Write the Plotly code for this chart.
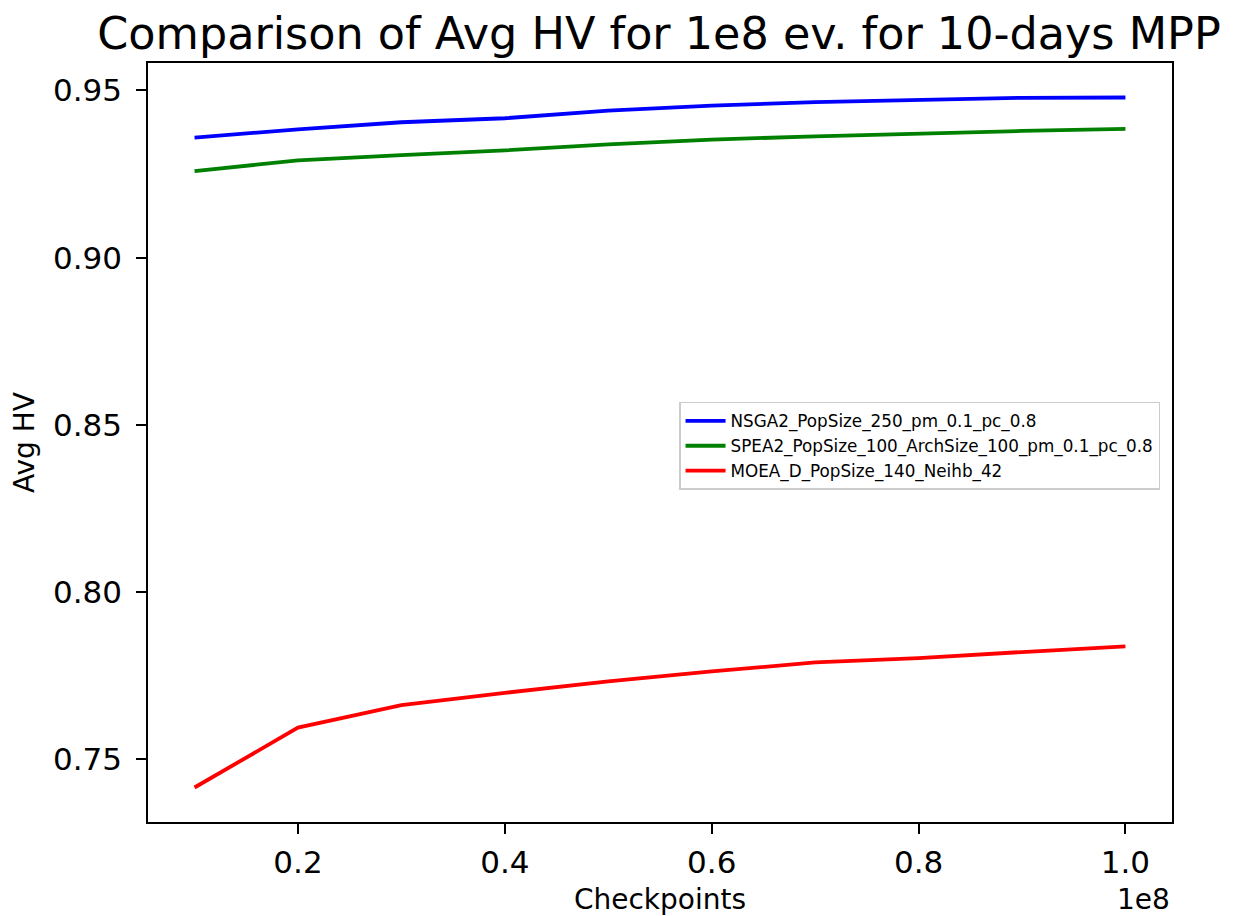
import plotly.graph_objects as go

checkpoints = [1e7, 2e7, 3e7, 4e7, 5e7, 6e7, 7e7, 8e7, 9e7, 1e8]
nsga2 = [0.9359, 0.9384, 0.9405, 0.9417, 0.9440, 0.9455, 0.9465, 0.9471, 0.9478, 0.9479]
spea2 = [0.9259, 0.9291, 0.9307, 0.9321, 0.9339, 0.9353, 0.9363, 0.9372, 0.9379, 0.9385]
moead = [0.7416, 0.7595, 0.7662, 0.7699, 0.7733, 0.7763, 0.7790, 0.7803, 0.7821, 0.7838]

series_names = ["NSGA2_PopSize_250_pm_0.1_pc_0.8",
                "SPEA2_PopSize_100_ArchSize_100_pm_0.1_pc_0.8",
                "MOEA_D_PopSize_140_Neihb_42"]
series_colors = ["blue", "green", "red"]

x_tickvals = [2e7, 4e7, 6e7, 8e7, 1e8]
x_ticktext = ["0.2", "0.4", "0.6", "0.8", "1.0"]
y_tickvals = [0.75, 0.80, 0.85, 0.90, 0.95]

FONT = "DejaVu Sans"

fig = go.Figure()
for name, vals, col in zip(series_names, [nsga2, spea2, moead], series_colors):
    fig.add_trace(go.Scatter(x=checkpoints, y=vals, mode="lines", name=name,
                             line=dict(color=col, width=3.8)))

xmin, xmax = min(checkpoints), max(checkpoints)
ymin = min(moead + spea2 + nsga2)
ymax = max(moead + spea2 + nsga2)
xpad = 0.05 * (xmax - xmin)
ypad = 0.05 * (ymax - ymin)

W, H = 1228, 908
fig.update_layout(
    width=W, height=H,
    margin=dict(l=140, r=64, t=55, b=94, autoexpand=False),
    paper_bgcolor="white", plot_bgcolor="white",
    font=dict(family=FONT, color="black"),
    showlegend=True,
    title=dict(text="Comparison of Avg HV for 1e8 ev. for 10-days MPP",
               x=(659 - 8) / W, xanchor="center", y=1 - (33 - 8) / H, yanchor="middle",
               font=dict(size=44.5, family=FONT, color="black")),
    legend=dict(x=0.5186, y=0.5534, xanchor="left", yanchor="top",
                bgcolor="white", bordercolor="#cccccc", borderwidth=1.5,
                font=dict(size=16.8, family=FONT, color="black"),
                tracegroupgap=0, itemwidth=40),
    xaxis=dict(range=[xmin - xpad, xmax + xpad], tickvals=x_tickvals, ticktext=x_ticktext,
               automargin=False,
               showgrid=False, zeroline=False, showline=True, linecolor="black", linewidth=1.5,
               mirror=True, ticks="outside", ticklen=10, tickwidth=1.5, tickcolor="black",
               ticklabelstandoff=2,
               tickfont=dict(size=31, family=FONT, color="black"),
               title=dict(text="Checkpoints", standoff=12, font=dict(size=28, family=FONT, color="black"))),
    yaxis=dict(range=[ymin - ypad, ymax + ypad], tickvals=y_tickvals, tickformat=".2f",
               automargin=False,
               showgrid=False, zeroline=False, showline=True, linecolor="black", linewidth=1.5,
               mirror=True, ticks="outside", ticklen=10, tickwidth=1.5, tickcolor="black",
               ticklabelstandoff=8,
               tickfont=dict(size=31, family=FONT, color="black"),
               title=dict(text="Avg HV", standoff=10, font=dict(size=28, family=FONT, color="black"))),
)

fig.add_annotation(text="1e8", xref="paper", yref="paper", x=1.0, y=-(899 - 822) / 759,
                   xanchor="right", yanchor="middle", showarrow=False,
                   font=dict(size=28, family=FONT, color="black"))

fig.write_html("out.html")
